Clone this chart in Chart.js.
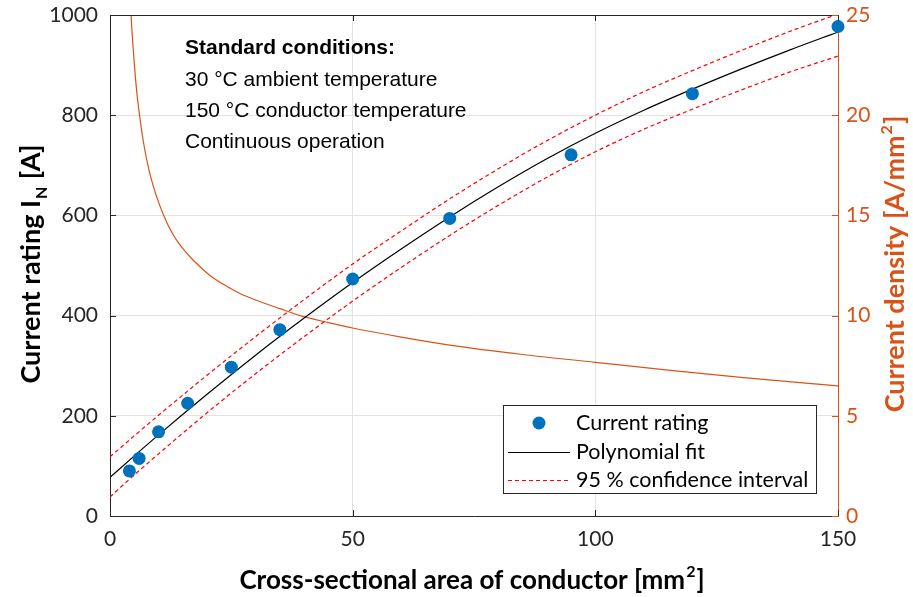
<!DOCTYPE html>
<html>
<head>
    <title>Current rating</title>
    <script src="https://cdn.jsdelivr.net/npm/chart.js"></script>
    <style>
        body { margin: 0; background: #fff; }
        #wrap { width: 913px; height: 597px; }
    </style>
</head>
<body>
    <div id="wrap"><canvas id="myChart" width="913" height="597"></canvas></div>

    <script>
        // measured current ratings
        const area = [4, 6, 10, 16, 25, 35, 50, 70, 95, 120, 150];
        const rating = [90, 115, 168, 225, 297, 372, 473, 594, 721, 843, 977];

        // polynomial fit and its 95 % band
        const fitX = [0, 5, 10, 20, 30, 40, 50, 60, 70, 80, 90, 100, 110, 120, 130, 140, 150];
        const fitY = [77, 120, 162, 243, 321, 395, 466, 533, 597, 657, 713, 764, 810, 852, 892, 930, 966];
        const upperY = [118, 160, 201, 281, 358, 432, 503, 569, 633, 693, 749, 800, 847, 889, 929, 967, 1002];
        const lowerY = [38, 82, 124, 206, 284, 358, 429, 496, 560, 620, 676, 727, 772, 812, 850, 886, 918];

        // current density (right axis)
        const densX = [3.8, 4.3, 5, 5.5, 6.2, 7, 8, 9, 10, 11, 12, 13, 14, 15.5, 17, 18.5, 21, 24.3, 27, 30, 35, 39.2, 45, 50, 60, 70, 85, 100, 115, 130, 150];
        const densY = [28.3, 25.2, 22.6, 21.2, 19.8, 18.5, 17.3, 16.4, 15.66, 15.03, 14.5, 14.05, 13.67, 13.2, 12.8, 12.45, 11.93, 11.43, 11.08, 10.78, 10.35, 10.0, 9.65, 9.38, 8.93, 8.53, 8.06, 7.67, 7.28, 6.92, 6.49];

        const xTicks = [0, 50, 100, 150];
        const yTicks = [0, 200, 400, 600, 800, 1000];
        const y2Ticks = [0, 5, 10, 15, 20, 25];

        const blue = '#0072BD';
        const orange = '#D95319';
        const axisGray = '#262626';
        const tickFont = { family: 'Lato', size: 21 };

        function pts(xs, ys) {
            return xs.map((x, i) => ({ x: x, y: ys[i] }));
        }

        // text with one raised or lowered small piece, e.g. mm^2 or I_N
        function richText(ctx, parts, cx, cy, color) {
            let total = 0;
            parts.forEach(p => {
                ctx.font = p.font;
                p.w = ctx.measureText(p.t).width;
                total += p.w + (p.gap || 0);
            });
            let x = cx - total / 2;
            ctx.fillStyle = color;
            parts.forEach(p => {
                ctx.font = p.font;
                ctx.fillText(p.t, x + (p.gap || 0) / 2, cy + (p.dy || 0));
                x += p.w + (p.gap || 0);
            });
        }

        // titles, frame, inner ticks, text box and legend
        const extras = {
            id: 'extras',
            afterDraw(chart) {
                const ctx = chart.ctx;
                const a = chart.chartArea;
                const xs = chart.scales.x, ys = chart.scales.y, y2 = chart.scales.y2;
                ctx.save();

                // top frame line
                ctx.strokeStyle = axisGray;
                ctx.lineWidth = 1;
                ctx.beginPath();
                ctx.moveTo(a.left, a.top + 0.5);
                ctx.lineTo(a.right, a.top + 0.5);
                ctx.stroke();

                // inward tick marks
                ctx.beginPath();
                xTicks.forEach(v => {
                    const px = Math.round(xs.getPixelForValue(v)) + 0.5;
                    ctx.moveTo(px, a.bottom); ctx.lineTo(px, a.bottom - 6);
                    ctx.moveTo(px, a.top); ctx.lineTo(px, a.top + 6);
                });
                yTicks.forEach(v => {
                    const py = Math.round(ys.getPixelForValue(v)) + 0.5;
                    ctx.moveTo(a.left, py); ctx.lineTo(a.left + 6, py);
                });
                ctx.stroke();
                ctx.strokeStyle = orange;
                ctx.beginPath();
                y2Ticks.forEach(v => {
                    const py = Math.round(y2.getPixelForValue(v)) + 0.5;
                    ctx.moveTo(a.right, py); ctx.lineTo(a.right - 6, py);
                });
                ctx.stroke();

                // axis titles
                ctx.textBaseline = 'alphabetic';
                ctx.textAlign = 'left';
                const big = 'bold 26px Lato', small = 'bold 16px Lato';
                const big2 = 'bold 27px Lato';
                richText(ctx, [
                    { t: 'Cross-sectional area of conductor [mm', font: big },
                    { t: '2', font: small, dy: -12, gap: 2 },
                    { t: ']', font: big }
                ], 472, 589, '#000');

                ctx.save();
                ctx.translate(40, 264);
                ctx.rotate(-Math.PI / 2);
                richText(ctx, [
                    { t: 'Current rating I', font: big2 },
                    { t: 'N', font: small, dy: 7, gap: 2 },
                    { t: ' [A]', font: big2 }
                ], 0, 0, '#000');
                ctx.restore();

                ctx.save();
                ctx.translate(904, 264);
                ctx.rotate(-Math.PI / 2);
                richText(ctx, [
                    { t: 'Current density [A/mm', font: big2 },
                    { t: '2', font: small, dy: -12, gap: 2 },
                    { t: ']', font: big2 }
                ], 0, 0, orange);
                ctx.restore();

                // conditions text
                ctx.fillStyle = '#000';
                ctx.textBaseline = 'middle';
                ctx.font = 'bold 21px "Liberation Sans"';
                ctx.fillText('Standard conditions:', 185, 48);
                ctx.font = '21px "Liberation Sans"';
                ctx.fillText('30 \u00B0C ambient temperature', 185, 80);
                ctx.fillText('150 \u00B0C conductor temperature', 185, 111);
                ctx.fillText('Continuous operation', 185, 142);

                // legend
                const bx = 503, bt = 405, bw = 313, bh = 88;
                ctx.fillStyle = '#fff';
                ctx.fillRect(bx, bt, bw, bh);
                ctx.strokeStyle = axisGray;
                ctx.lineWidth = 1;
                ctx.strokeRect(bx + 0.5, bt + 0.5, bw, bh);
                const rows = [423, 452, 480];
                ctx.fillStyle = blue;
                ctx.beginPath();
                ctx.arc(539, rows[0], 6.5, 0, Math.PI * 2);
                ctx.fill();
                ctx.strokeStyle = '#000';
                ctx.beginPath();
                ctx.moveTo(508, rows[1] + 0.5); ctx.lineTo(570, rows[1] + 0.5);
                ctx.stroke();
                ctx.strokeStyle = '#FF0000';
                ctx.setLineDash([4, 3]);
                ctx.beginPath();
                ctx.moveTo(508, rows[2] + 0.5); ctx.lineTo(570, rows[2] + 0.5);
                ctx.stroke();
                ctx.setLineDash([]);
                ctx.fillStyle = '#000';
                ctx.font = '21.5px Lato';
                ctx.fillText('Current rating', 576, rows[0]);
                ctx.fillText('Polynomial fit', 576, rows[1]);
                ctx.fillText('95 % confidence interval', 576, rows[2]);

                ctx.restore();
            }
        };

        // no extra room for half tick labels: keep the plot box where the reference has it
        function noOverflow(s) {
            s.paddingTop = 0; s.paddingBottom = 0;
            s.paddingLeft = 0; s.paddingRight = 0;
        }

        const chart = new Chart(document.getElementById('myChart'), {
            type: 'scatter',
            data: {
                datasets: [{
                    label: 'Current rating',
                    data: pts(area, rating),
                    backgroundColor: blue,
                    borderWidth: 0,
                    pointRadius: 6.5,
                    clip: false
                }, {
                    label: 'Polynomial fit',
                    data: pts(fitX, fitY),
                    showLine: true,
                    borderColor: '#000',
                    borderWidth: 1.2,
                    pointRadius: 0,
                    cubicInterpolationMode: 'monotone'
                }, {
                    label: '95 % confidence interval',
                    data: pts(fitX, upperY),
                    showLine: true,
                    borderColor: '#FF0000',
                    borderWidth: 1.2,
                    borderDash: [4, 3],
                    pointRadius: 0,
                    cubicInterpolationMode: 'monotone'
                }, {
                    label: 'lower',
                    data: pts(fitX, lowerY),
                    showLine: true,
                    borderColor: '#FF0000',
                    borderWidth: 1.2,
                    borderDash: [4, 3],
                    pointRadius: 0,
                    cubicInterpolationMode: 'monotone'
                }, {
                    label: 'Current density',
                    data: pts(densX, densY),
                    yAxisID: 'y2',
                    showLine: true,
                    borderColor: orange,
                    borderWidth: 1.2,
                    pointRadius: 0,
                    cubicInterpolationMode: 'monotone'
                }]
            },
            options: {
                responsive: false,
                animation: false,
                layout: { padding: { top: 15, left: 0, right: 0, bottom: 0 } },
                plugins: {
                    legend: { display: false },
                    tooltip: { enabled: false }
                },
                scales: {
                    x: {
                        type: 'linear',
                        min: 0, max: 150,
                        afterBuildTicks: s => { s.ticks = xTicks.map(v => ({ value: v })); },
                        afterFit: s => { s.height = 81; noOverflow(s); },
                        ticks: { color: axisGray, font: tickFont, padding: 11, maxRotation: 0 },
                        grid: { color: '#e3e3e3', drawTicks: false },
                        border: { color: axisGray }
                    },
                    y: {
                        position: 'left',
                        min: 0, max: 1000,
                        afterBuildTicks: s => { s.ticks = yTicks.map(v => ({ value: v })); },
                        afterFit: s => { s.width = 110; noOverflow(s); },
                        ticks: { color: axisGray, font: tickFont, padding: 12, callback: v => String(v) },
                        grid: { color: '#e3e3e3', drawTicks: false },
                        border: { color: axisGray }
                    },
                    y2: {
                        position: 'right',
                        min: 0, max: 25,
                        afterBuildTicks: s => { s.ticks = y2Ticks.map(v => ({ value: v })); },
                        afterFit: s => { s.width = 75; noOverflow(s); },
                        ticks: { color: orange, font: tickFont, padding: 8 },
                        grid: { display: false, drawTicks: false },
                        border: { color: orange }
                    }
                }
            },
            plugins: [extras]
        });
    </script>
</body>
</html>
